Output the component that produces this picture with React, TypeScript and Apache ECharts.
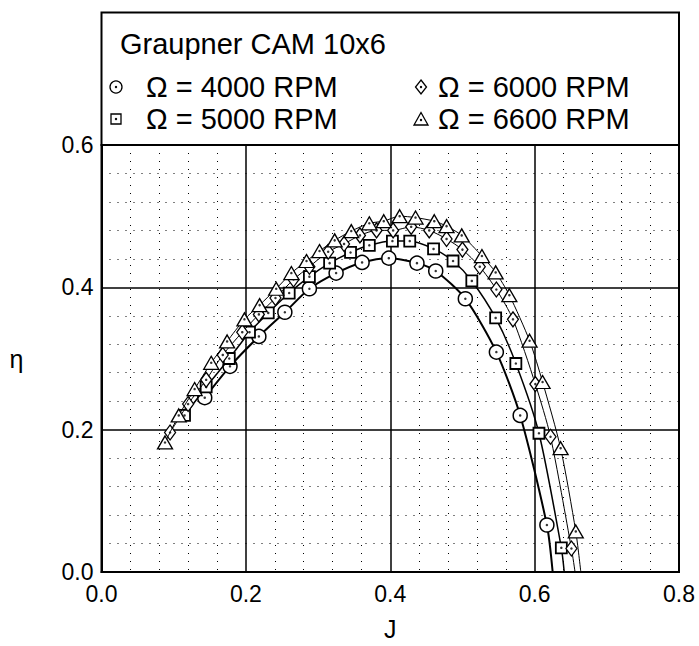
import React, { useEffect, useRef } from "react";
import * as echarts from "echarts";

const xTicks = [0, 0.2, 0.4, 0.6, 0.8];
const yTicks = [0, 0.2, 0.4, 0.6];

const title = "Graupner CAM 10x6";
const names = ["Ω = 4000 RPM", "Ω = 5000 RPM", "Ω = 6000 RPM", "Ω = 6600 RPM"];

const J4000 = [0.143, 0.178, 0.218, 0.254, 0.288, 0.325, 0.361, 0.398, 0.437, 0.463, 0.504, 0.547, 0.58, 0.617];
const eta4000 = [0.245, 0.289, 0.331, 0.365, 0.398, 0.42, 0.435, 0.441, 0.434, 0.423, 0.384, 0.309, 0.22, 0.066];
const end4000 = [0.625, 0];

const J5000 = [0.115, 0.145, 0.177, 0.205, 0.231, 0.26, 0.288, 0.316, 0.345, 0.371, 0.403, 0.427, 0.46, 0.487, 0.513, 0.546, 0.574, 0.606, 0.637];
const eta5000 = [0.22, 0.26, 0.3, 0.337, 0.364, 0.392, 0.415, 0.434, 0.449, 0.459, 0.465, 0.465, 0.454, 0.437, 0.409, 0.357, 0.293, 0.195, 0.034];
const end5000 = [0.641, 0];

const J6000 = [0.095, 0.12, 0.145, 0.168, 0.195, 0.218, 0.241, 0.266, 0.288, 0.314, 0.336, 0.358, 0.381, 0.404, 0.429, 0.454, 0.478, 0.5, 0.524, 0.547, 0.57, 0.601, 0.622, 0.651];
const eta6000 = [0.196, 0.236, 0.27, 0.305, 0.337, 0.362, 0.385, 0.411, 0.429, 0.45, 0.461, 0.473, 0.48, 0.48, 0.485, 0.48, 0.468, 0.453, 0.429, 0.397, 0.355, 0.264, 0.19, 0.033];
const end6000 = [0.656, 0];

const J6600 = [0.088, 0.107, 0.129, 0.152, 0.174, 0.198, 0.219, 0.242, 0.263, 0.284, 0.302, 0.323, 0.346, 0.371, 0.391, 0.413, 0.435, 0.461, 0.478, 0.499, 0.527, 0.546, 0.565, 0.593, 0.611, 0.636, 0.657];
const eta6600 = [0.182, 0.22, 0.257, 0.294, 0.324, 0.355, 0.375, 0.398, 0.42, 0.437, 0.451, 0.466, 0.479, 0.49, 0.493, 0.5, 0.498, 0.493, 0.486, 0.473, 0.444, 0.421, 0.389, 0.325, 0.267, 0.174, 0.057];
const end6600 = [0.664, 0];

const FONT = "'Liberation Sans', Arial, sans-serif";

function makeSeries(name: string, J: number[], eta: number[], end: number[], symbol: string, size: any, lw: number, bw: number, z: number) {
  const pts = J.map((j, i) => [j, eta[i]]);
  return [
    {
      type: "line",
      name,
      data: [...pts, { value: end, symbol: "none" }],
      smooth: 0.25,
      symbol,
      symbolSize: size,
      showSymbol: true,
      showAllSymbol: true,
      lineStyle: { color: "#000", width: lw },
      itemStyle: { color: "#fff", borderColor: "#000", borderWidth: bw },
      z,
    },
    {
      type: "scatter",
      name: name + " dot",
      data: pts,
      symbol: "circle",
      symbolSize: 2.5,
      itemStyle: { color: "#000" },
      silent: true,
      z: z + 0.5,
    },
  ];
}

export default function App() {
  const ref = useRef<HTMLDivElement>(null);
  useEffect(() => {
    document.body.style.margin = "0";
    const chart = echarts.init(ref.current!, null, { renderer: "svg" });
    const gl = 101.5, gr = 679, gt = 145;
    const boxTop = 12.5;
    const row1 = 87, row2 = 119;
    const lx = 116, rx = 421;
    const tx = 30;
    const Z = 20;
    const legendText = (x: number, y: number, t: string) => ({
      type: "text", x, y, z: Z,
      style: { text: t, font: `29px ${FONT}`, fill: "#000", textVerticalAlign: "middle", verticalAlign: "middle" },
    });
    const dot = (x: number, y: number) => ({ type: "circle", z: Z + 1, shape: { cx: x, cy: y, r: 1.2 }, style: { fill: "#000" } });
    const sym = { stroke: "#000", fill: "#fff", lineWidth: 1.3 };
    chart.setOption({
      animation: false,
      backgroundColor: "#fff",
      grid: { left: gl, right: 699 - gr, top: gt, bottom: 646 - 578, show: true, borderColor: "#000", borderWidth: 2, backgroundColor: "transparent" },
      xAxis: {
        type: "value", min: 0, max: 0.8, interval: 0.2,
        name: "J", nameLocation: "middle", nameGap: 44,
        nameTextStyle: { fontSize: 25, color: "#000", fontFamily: FONT },
        axisLine: { lineStyle: { color: "#000", width: 2 } },
        axisTick: { show: false },
        axisLabel: { fontSize: 23, color: "#000", fontFamily: FONT, margin: 10, formatter: (v: number) => v.toFixed(1) },
        splitLine: { show: true, lineStyle: { color: "#000", width: 1.5 } },
        minorTick: { show: false, splitNumber: 5 },
        minorSplitLine: { show: true, lineStyle: { color: "#000", width: 1, type: [1, 7] } },
      },
      yAxis: {
        type: "value", min: 0, max: 0.6, interval: 0.2,
        name: "η", nameLocation: "middle", nameGap: 78, nameRotate: 0,
        nameTextStyle: { fontSize: 25, color: "#000", fontFamily: FONT },
        axisLine: { lineStyle: { color: "#000", width: 2 } },
        axisTick: { show: false },
        axisLabel: { fontSize: 23, color: "#000", fontFamily: FONT, margin: 8, formatter: (v: number) => v.toFixed(1) },
        splitLine: { show: true, lineStyle: { color: "#000", width: 1.5 } },
        minorTick: { show: false, splitNumber: 5 },
        minorSplitLine: { show: true, lineStyle: { color: "#000", width: 1, type: [1, 7] } },
      },
      series: [
        ...makeSeries(names[0], J4000, eta4000, end4000, "circle", 14, 2, 1.5, 2),
        ...makeSeries(names[1], J5000, eta5000, end5000, "rect", 11, 1.5, 1.8, 3),
        ...makeSeries(names[2], J6000, eta6000, end6000, "diamond", [11, 15], 1, 1.3, 4),
        ...makeSeries(names[3], J6600, eta6600, end6600, "triangle", [15, 13], 1, 1.3, 5),
      ],
      graphic: [
        { type: "rect", z: 10, shape: { x: gl, y: boxTop, width: gr - gl, height: gt - boxTop }, style: { stroke: "#000", lineWidth: 2, fill: "#fff" } },
        { type: "text", z: Z, x: 120, y: 44, style: { text: title, font: `29px ${FONT}`, fill: "#000", textVerticalAlign: "middle", verticalAlign: "middle" } },
        { type: "circle", z: Z, shape: { cx: lx, cy: row1, r: 6 }, style: sym },
        dot(lx, row1),
        { type: "rect", z: Z, shape: { x: lx - 5, y: row2 - 5, width: 10, height: 10 }, style: sym },
        dot(lx, row2),
        { type: "polygon", z: Z, shape: { points: [[rx, row1 - 7], [rx + 5.5, row1], [rx, row1 + 7], [rx - 5.5, row1]] }, style: sym },
        dot(rx, row1),
        { type: "polygon", z: Z, shape: { points: [[rx, row2 - 6.5], [rx + 7, row2 + 6], [rx - 7, row2 + 6]] }, style: sym },
        dot(rx, row2 + 1),
        legendText(lx + tx, row1, names[0]),
        legendText(lx + tx, row2, names[1]),
        legendText(rx + 17, row1, names[2]),
        legendText(rx + 17, row2, names[3]),
      ],
    });
    return () => chart.dispose();
  }, []);
  return <div ref={ref} style={{ width: 699, height: 646 }} />;
}
